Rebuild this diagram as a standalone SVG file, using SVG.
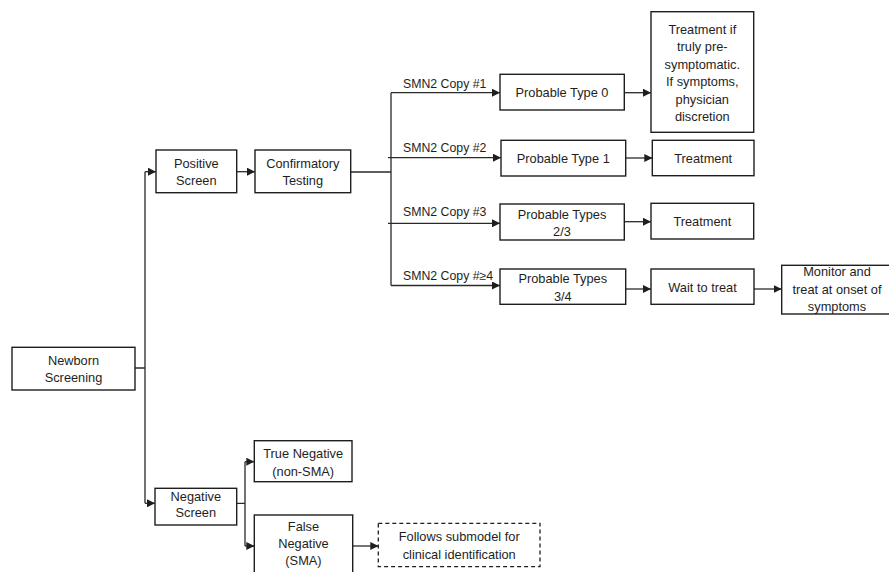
<svg xmlns="http://www.w3.org/2000/svg" width="889" height="572" viewBox="0 0 889 572">
<defs>
<style>
.box{fill:#fff;stroke:#1e1e1e;stroke-width:1.4}
.dash{fill:#fff;stroke:#1e1e1e;stroke-width:1.3;stroke-dasharray:4 3}
.ln{fill:none;stroke:#2a2a2a;stroke-width:1.3}
.ar{fill:none;stroke:#2a2a2a;stroke-width:1.3;marker-end:url(#ah)}
text{font-family:"Liberation Sans",Arial,sans-serif;font-size:12.8px;fill:#1e1e1e;text-anchor:middle}
.lbl{text-anchor:start;font-size:12.3px}
</style>
<marker id="ah" viewBox="0 0 10 10" refX="10" refY="5" markerWidth="8" markerHeight="8" markerUnits="userSpaceOnUse" orient="auto">
<path d="M0,0 L10,5 L0,10 z" fill="#1e1e1e"/>
</marker>
</defs>
<rect width="889" height="572" fill="#fff"/>
<g id="connectors">
<path class="ln" d="M135,368 H145 M145,171.7 V503.3"/>
<path class="ar" d="M145,171.7 H156"/>
<path class="ar" d="M145,503.3 H155"/>
<path class="ar" d="M236.7,171.7 H255"/>
<path class="ln" d="M350.7,172 H391 M391,92.7 V285.5"/>
<path class="ar" d="M391,92.7 H500"/>
<path class="ar" d="M388,157.7 H501"/>
<path class="ar" d="M388,223.3 H500"/>
<path class="ar" d="M391,285.5 H500"/>
<path class="ar" d="M624.3,92.7 H651"/>
<path class="ar" d="M625.7,158 H652.3"/>
<path class="ar" d="M624.3,221.7 H651"/>
<path class="ar" d="M625.7,289 H651"/>
<path class="ar" d="M754,289 H781.7"/>
<path class="ln" d="M236.7,503.3 H245 M245,461.7 V546"/>
<path class="ar" d="M245,461.7 H254.3"/>
<path class="ar" d="M245,546 H254.3"/>
<path class="ar" d="M352.7,546 H378.3"/>
<text class="lbl" x="403" y="87.5">SMN2 Copy #1</text>
<text class="lbl" x="403" y="151.5">SMN2 Copy #2</text>
<text class="lbl" x="403" y="216">SMN2 Copy #3</text>
<text class="lbl" x="403" y="279.5">SMN2 Copy #≥4</text>
</g>
<g id="newborn">
<rect class="box" x="12" y="347.3" width="123" height="42.7"/>
<text x="73.5" y="364.5">Newborn</text>
<text x="73.5" y="382">Screening</text>
</g>
<g id="positive">
<rect class="box" x="156" y="150" width="80.7" height="42.7"/>
<text x="196.3" y="167.8">Positive</text>
<text x="196.3" y="185.2">Screen</text>
</g>
<g id="confirmatory">
<rect class="box" x="255" y="150" width="95.7" height="42.7"/>
<text x="302.8" y="167.8">Confirmatory</text>
<text x="302.8" y="185.2">Testing</text>
</g>
<g id="type0">
<rect class="box" x="500" y="74.3" width="124.3" height="35.7"/>
<text x="562" y="97.2">Probable Type 0</text>
</g>
<g id="treat0">
<rect class="box" x="651" y="11.7" width="102.7" height="120.6"/>
<text x="702.3" y="33.5">Treatment if</text>
<text x="702.3" y="51.2">truly pre-</text>
<text x="702.3" y="68.8">symptomatic.</text>
<text x="702.3" y="86.2">If symptoms,</text>
<text x="702.3" y="103.5">physician</text>
<text x="702.3" y="120.8">discretion</text>
</g>
<g id="type1">
<rect class="box" x="501" y="140.3" width="124.7" height="35.7"/>
<text x="563.3" y="162.5">Probable Type 1</text>
</g>
<g id="treat1">
<rect class="box" x="652.3" y="140.3" width="101.7" height="35.4"/>
<text x="703.2" y="162.5">Treatment</text>
</g>
<g id="type23">
<rect class="box" x="500" y="204" width="124.3" height="36"/>
<text x="562" y="218.5">Probable Types</text>
<text x="562" y="236.2">2/3</text>
</g>
<g id="treat23">
<rect class="box" x="651" y="203.3" width="102.7" height="35.7"/>
<text x="702.3" y="226.2">Treatment</text>
</g>
<g id="type34">
<rect class="box" x="500" y="269" width="125.7" height="35.3"/>
<text x="562.8" y="282.8">Probable Types</text>
<text x="562.8" y="301.2">3/4</text>
</g>
<g id="wait">
<rect class="box" x="651" y="269" width="103" height="35.3"/>
<text x="702.5" y="291.8">Wait to treat</text>
</g>
<g id="monitor">
<rect class="box" x="781.7" y="265.3" width="110" height="48.7"/>
<text x="837" y="276.2">Monitor and</text>
<text x="837" y="293.5">treat at onset of</text>
<text x="837" y="311.2">symptoms</text>
</g>
<g id="negative">
<rect class="box" x="155" y="488.3" width="81.7" height="36.7"/>
<text x="195.8" y="500.5">Negative</text>
<text x="195.8" y="517.2">Screen</text>
</g>
<g id="trueneg">
<rect class="box" x="254.3" y="440.7" width="97.7" height="41"/>
<text x="303.2" y="457.8">True Negative</text>
<text x="303.2" y="476.2">(non-SMA)</text>
</g>
<g id="falseneg">
<rect class="box" x="254.3" y="515" width="98.4" height="60"/>
<text x="303.5" y="530.5">False</text>
<text x="303.5" y="547.8">Negative</text>
<text x="303.5" y="565">(SMA)</text>
</g>
<g id="submodel">
<rect class="dash" x="378.3" y="523.3" width="161.7" height="43.4"/>
<text x="459.2" y="541.2">Follows submodel for</text>
<text x="459.2" y="558.5">clinical identification</text>
</g>
</svg>
